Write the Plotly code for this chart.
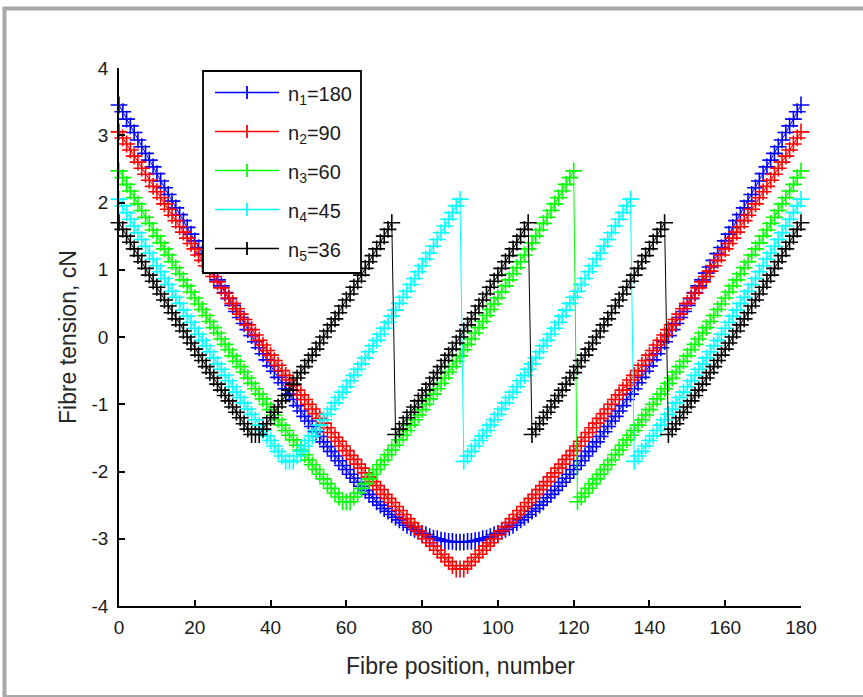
import plotly.graph_objects as go

# ---------------- data ----------------
FIBRE_POS = list(range(0, 181))

# n1 = 180 : one symmetric U, values from the bottom (distance 0 from centre) outwards
BLUE_HALF = [
    -3.05, -3.05, -3.04, -3.04, -3.03, -3.02, -3.00, -2.99, -2.97, -2.94,
    -2.92, -2.89, -2.86, -2.83, -2.80, -2.76, -2.72, -2.68, -2.64, -2.59,
    -2.55, -2.50, -2.45, -2.39, -2.34, -2.28, -2.22, -2.16, -2.10, -2.04,
    -1.97, -1.91, -1.84, -1.77, -1.70, -1.63, -1.56, -1.48, -1.41, -1.33,
    -1.25, -1.18, -1.10, -1.02, -0.93, -0.85, -0.77, -0.68, -0.60, -0.51,
    -0.43, -0.34, -0.25, -0.16, -0.07, 0.02, 0.11, 0.20, 0.29, 0.38,
    0.47, 0.57, 0.66, 0.76, 0.85, 0.95, 1.04, 1.14, 1.24, 1.33,
    1.43, 1.53, 1.63, 1.73, 1.82, 1.92, 2.02, 2.12, 2.22, 2.32,
    2.43, 2.53, 2.63, 2.73, 2.83, 2.93, 3.04, 3.14, 3.24, 3.35,
    3.45,
]

# n2 = 90 : rising branch of one group (bottom -> top)
RED_ASC = [
    -3.45, -3.40, -3.34, -3.28, -3.23, -3.17, -3.11, -3.06, -3.00, -2.94,
    -2.88, -2.82, -2.76, -2.70, -2.64, -2.58, -2.52, -2.46, -2.40, -2.34,
    -2.27, -2.21, -2.15, -2.08, -2.02, -1.95, -1.89, -1.82, -1.76, -1.69,
    -1.62, -1.55, -1.49, -1.42, -1.35, -1.28, -1.21, -1.14, -1.07, -1.00,
    -0.93, -0.86, -0.79, -0.72, -0.64, -0.57, -0.50, -0.42, -0.35, -0.27,
    -0.20, -0.12, -0.05, 0.03, 0.11, 0.18, 0.26, 0.34, 0.42, 0.50,
    0.58, 0.65, 0.73, 0.82, 0.90, 0.98, 1.06, 1.14, 1.22, 1.31,
    1.39, 1.47, 1.56, 1.64, 1.73, 1.81, 1.90, 1.98, 2.07, 2.16,
    2.24, 2.33, 2.42, 2.51, 2.60, 2.69, 2.78, 2.87, 2.96, 3.05,
]

# n3 = 60
GREEN_ASC = [
    -2.45, -2.38, -2.32, -2.25, -2.18, -2.11, -2.04, -1.97, -1.90, -1.83,
    -1.75, -1.68, -1.61, -1.53, -1.46, -1.39, -1.31, -1.23, -1.16, -1.08,
    -1.00, -0.92, -0.85, -0.77, -0.69, -0.61, -0.52, -0.44, -0.36, -0.28,
    -0.19, -0.11, -0.03, 0.06, 0.14, 0.23, 0.32, 0.41, 0.49, 0.58,
    0.67, 0.76, 0.85, 0.94, 1.03, 1.12, 1.22, 1.31, 1.40, 1.50,
    1.59, 1.69, 1.78, 1.88, 1.98, 2.07, 2.17, 2.27, 2.37, 2.47,
]

# n4 = 45
CYAN_ASC = [
    -1.85, -1.77, -1.70, -1.62, -1.54, -1.47, -1.39, -1.31, -1.23, -1.15,
    -1.07, -0.98, -0.90, -0.82, -0.74, -0.65, -0.57, -0.48, -0.40, -0.31,
    -0.22, -0.13, -0.05, 0.04, 0.13, 0.22, 0.31, 0.40, 0.50, 0.59,
    0.68, 0.78, 0.87, 0.97, 1.06, 1.16, 1.25, 1.35, 1.45, 1.55,
    1.65, 1.75, 1.85, 1.95, 2.05,
]

# n5 = 36
BLACK_ASC = [
    -1.45, -1.37, -1.29, -1.20, -1.12, -1.04, -0.95, -0.87, -0.79, -0.70,
    -0.61, -0.53, -0.44, -0.35, -0.27, -0.18, -0.09, 0.00, 0.09, 0.18,
    0.27, 0.36, 0.46, 0.55, 0.64, 0.74, 0.83, 0.92, 1.02, 1.12,
    1.21, 1.31, 1.41, 1.50, 1.60, 1.70,
]

SERIES_NAMES = ["n<sub>1</sub>=180", "n<sub>2</sub>=90", "n<sub>3</sub>=60",
                "n<sub>4</sub>=45", "n<sub>5</sub>=36"]
COLORS = ["#0000ff", "#ff0000", "#00ff00", "#00ffff", "#000000"]
X_TICKS = [0, 20, 40, 60, 80, 100, 120, 140, 160, 180]
X_TICK_TEXT = ["0", "20", "40", "60", "80", "100", "120", "140", "160", "180"]
Y_TICKS = [-4, -3, -2, -1, 0, 1, 2, 3, 4]
Y_TICK_TEXT = ["-4", "-3", "-2", "-1", "0", "1", "2", "3", "4"]
X_TITLE = "Fibre position, number"
Y_TITLE = "Fibre tension, cN"


def zigzag(asc, total):
    """first group falls (mirror of the rising branch), later groups rise again"""
    y = asc[::-1] + [asc[0]]
    while len(y) < total:
        y = y + asc
    return y[:total]


N = len(FIBRE_POS)
SERIES = [
    BLUE_HALF[::-1] + BLUE_HALF[1:],
    zigzag(RED_ASC, N),
    zigzag(GREEN_ASC, N),
    zigzag(CYAN_ASC, N),
    zigzag(BLACK_ASC, N),
]

# ---------------- figure ----------------
FONT = "Arial, 'Liberation Sans', sans-serif"
W, H = 863, 697
ML, MR, MT, MB = 119, 62, 68, 91
PW, PH = W - ML - MR, H - MT - MB


def px(xp):
    return (xp - ML) / PW


def py(yp):
    return 1 - (yp - MT) / PH


fig = go.Figure()
for name, ys, col in zip(SERIES_NAMES, SERIES, COLORS):
    fig.add_trace(go.Scatter(
        x=FIBRE_POS, y=ys, mode="lines+markers", name=name,
        line=dict(color=col, width=1),
        marker=dict(symbol="cross-thin-open", size=12, color=col,
                    line=dict(color=col, width=1.6)),
        cliponaxis=False, showlegend=False,
    ))

shapes = []
# outer grey frame
shapes.append(dict(type="rect", xref="paper", yref="paper",
                   x0=px(4.5), x1=px(900), y0=py(8.5), y1=py(697),
                   line=dict(color="#a7a7a9", width=4), fillcolor="rgba(0,0,0,0)",
                   layer="above"))
# legend box
LX0, LX1, LY0, LY1 = 203, 361, 71, 273
shapes.append(dict(type="rect", xref="paper", yref="paper",
                   x0=px(LX0), x1=px(LX1), y0=py(LY1), y1=py(LY0),
                   line=dict(color="#000000", width=1.8), fillcolor="white",
                   layer="above"))
annotations = []
row_y = [92.5, 131.5, 170.5, 209.5, 248.5]
for name, col, ry in zip(SERIES_NAMES, COLORS, row_y):
    shapes.append(dict(type="line", xref="paper", yref="paper",
                       x0=px(215), x1=px(279), y0=py(ry), y1=py(ry),
                       line=dict(color=col, width=1.5), layer="above"))
    shapes.append(dict(type="line", xref="paper", yref="paper",
                       x0=px(247), x1=px(247), y0=py(ry - 6.5), y1=py(ry + 6.5),
                       line=dict(color=col, width=1.8), layer="above"))
    annotations.append(dict(text=name, xref="paper", yref="paper",
                            x=px(286), y=py(ry + 3), xanchor="left", yanchor="middle",
                            showarrow=False,
                            font=dict(family=FONT, size=20, color="#1a1a1a")))

annotations.append(dict(text=X_TITLE, xref="paper", yref="paper",
                        x=px(460), y=py(666), xanchor="center", yanchor="middle",
                        showarrow=False, font=dict(family=FONT, size=23, color="#262626")))
annotations.append(dict(text=Y_TITLE, xref="paper", yref="paper",
                        x=px(68), y=py(337), xanchor="center", yanchor="middle",
                        textangle=-90, showarrow=False,
                        font=dict(family=FONT, size=23, color="#262626")))

axis_common = dict(showline=True, linecolor="#000000", linewidth=1.5,
                   ticks="inside", ticklen=6, tickwidth=1.5, tickcolor="#000000",
                   showgrid=False, zeroline=False,
                   tickfont=dict(family=FONT, size=19, color="#1a1a1a"))

fig.update_layout(
    width=W, height=H,
    margin=dict(l=ML, r=MR, t=MT, b=MB, pad=0),
    paper_bgcolor="white", plot_bgcolor="white",
    xaxis=dict(range=[0, 180], tickvals=X_TICKS, ticktext=X_TICK_TEXT,
               ticklabelstandoff=3, **axis_common),
    yaxis=dict(range=[-4, 4], tickvals=Y_TICKS, ticktext=Y_TICK_TEXT,
               ticklabelstandoff=5, **axis_common),
    shapes=shapes, annotations=annotations, showlegend=False,
)

fig.write_html("out.html", config={"displayModeBar": False},
               post_script="document.body.style.margin='0px';document.body.style.overflow='hidden';")
